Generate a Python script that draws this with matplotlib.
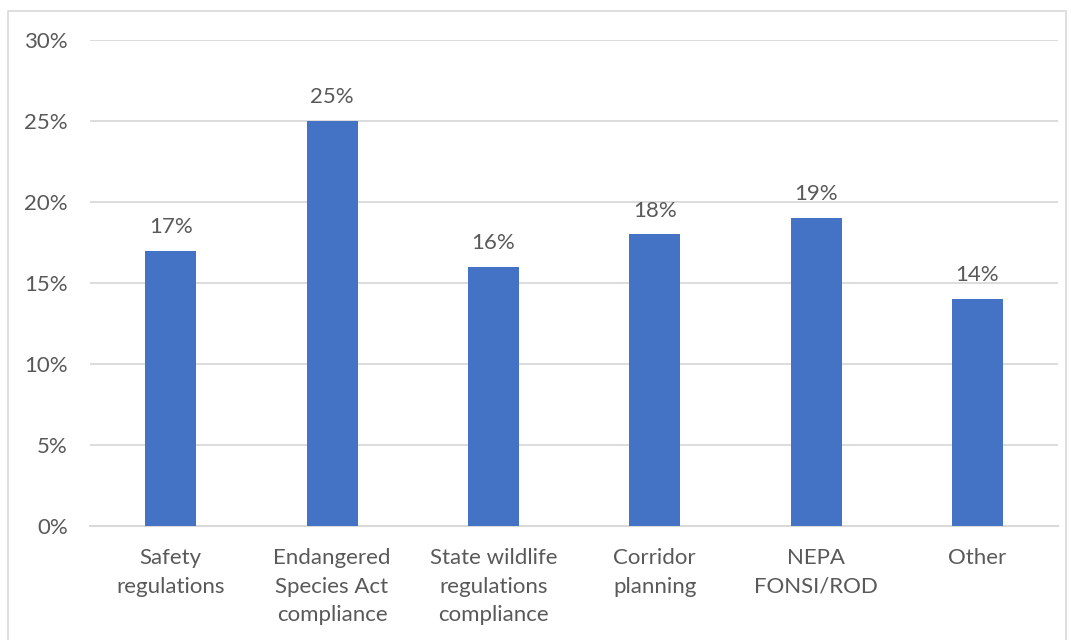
import matplotlib.pyplot as plt
from matplotlib.patches import Rectangle

categories = ["Safety\nregulations", "Endangered\nSpecies Act\ncompliance",
              "State wildlife\nregulations\ncompliance", "Corridor\nplanning",
              "NEPA\nFONSI/ROD", "Other"]
values = [17, 25, 16, 18, 19, 14]
yticks = [0, 5, 10, 15, 20, 25, 30]

plt.rcParams['font.family'] = ['Lato', 'DejaVu Sans']
text_color = '#595959'
grid_color = '#d9d9d9'

fig = plt.figure(figsize=(10.71, 6.4), dpi=100)
ax = fig.add_axes([0.084, 0.178, 0.904, 0.7595])

x = range(len(categories))
bars = ax.bar(x, values, width=0.316, color='#4472c4', zorder=3)
for b, v in zip(bars, values):
    ax.annotate(f"{v}%", (b.get_x() + b.get_width() / 2, v), xytext=(0, 10),
                textcoords='offset points', ha='center', va='bottom',
                fontsize=16, color=text_color)

ax.set_xlim(-0.5, len(categories) - 0.5)
ax.set_ylim(0, 30)
ax.set_yticks(yticks)
ax.set_yticklabels([f"{t}%" for t in yticks])
ax.set_xticks(list(x))
ax.set_xticklabels(categories, linespacing=1.53)
ax.tick_params(axis='both', length=0, labelsize=16, labelcolor=text_color)
ax.tick_params(axis='y', pad=16)
ax.tick_params(axis='x', pad=16)
ax.yaxis.grid(True, color=grid_color, linewidth=1.3, zorder=0)
for s in ['left', 'right', 'top']:
    ax.spines[s].set_visible(False)
ax.spines['bottom'].set_color(grid_color)
ax.spines['bottom'].set_linewidth(1.5)

fig.patches.append(Rectangle((8 / 1071, -0.1), 1058 / 1071, 629 / 640 + 0.1,
                             transform=fig.transFigure, fill=False,
                             edgecolor=grid_color, linewidth=1.2))

fig.savefig("out.png", dpi=100)
